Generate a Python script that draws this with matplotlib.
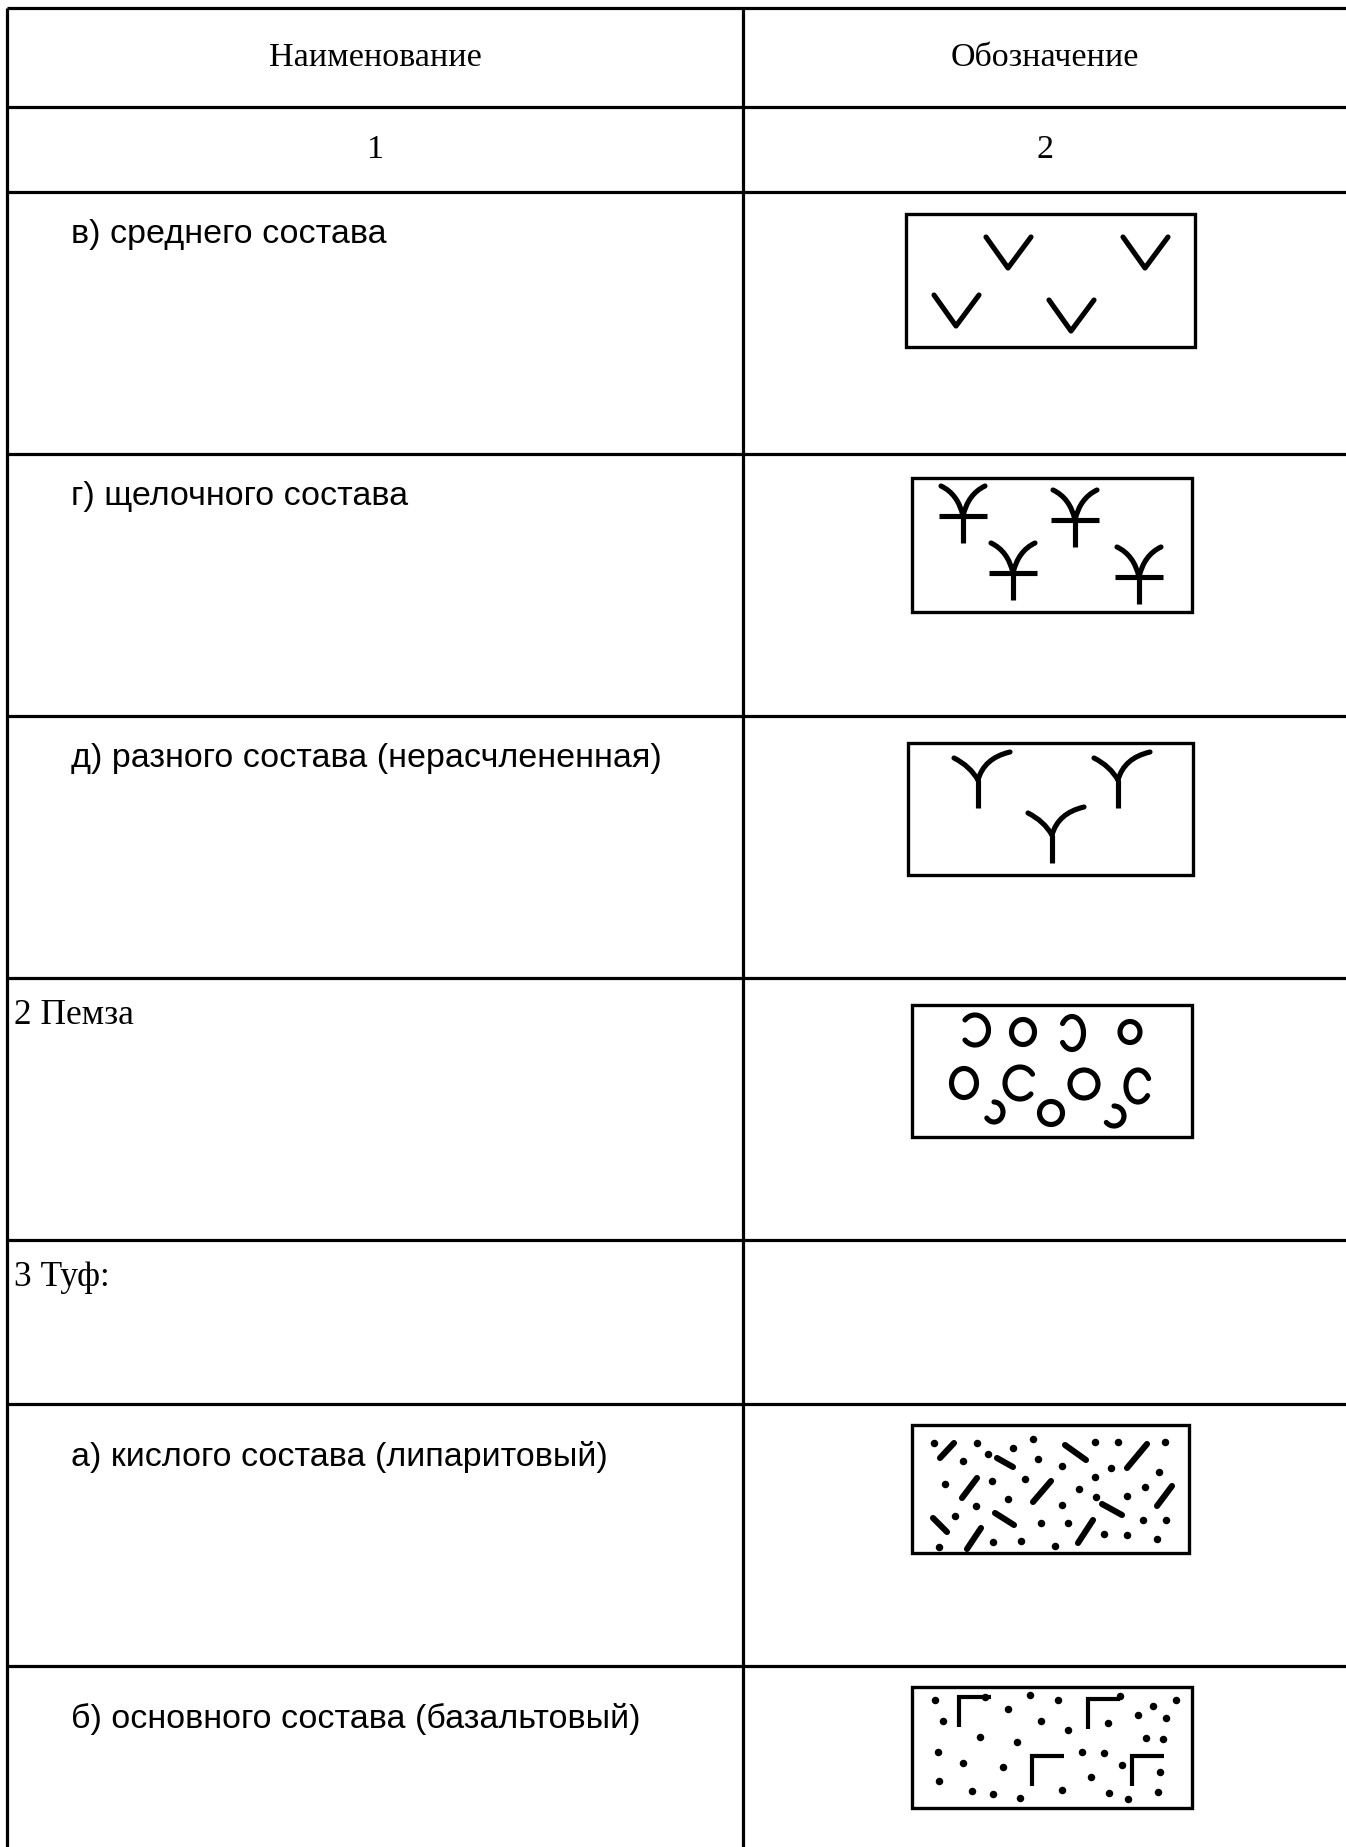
import matplotlib.pyplot as plt
from matplotlib.path import Path
from matplotlib.patches import PathPatch, Ellipse, Arc, Rectangle

W, H = 1346, 1847

# table grid (pixels of the page)
col_x = [7, 743]
row_y = [8, 107, 192, 454, 716, 978, 1240, 1404, 1666]

header = ["Наименование", "Обозначение"]
numbers = ["1", "2"]

# label, indented?, serif?
names = [
    ("в) среднего состава", True, False),
    ("г) щелочного состава", True, False),
    ("д) разного состава (нерасчлененная)", True, False),
    ("2 Пемза", False, True),
    ("3 Туф:", False, True),
    ("а) кислого состава (липаритовый)", True, False),
    ("б) основного состава (базальтовый)", True, False),
]
name_y = [234, 496, 758, 1016, 1277, 1457, 1719]

# symbol frames: x0, y0, x1, y1
boxes = [
    (906, 214, 1195, 347),
    (912, 478, 1192, 612),
    (908, 743, 1193, 875),
    (912, 1005, 1192, 1137),
    (912, 1425, 1189, 1553),
    (912, 1687, 1192, 1808),
]

v_marks = [(1008, 268), (1145, 268), (956, 326), (1071, 331)]
alk_marks = [(963, 516), (1075, 520), (1013, 573), (1139, 577)]
y_marks = [(978, 780), (1118, 780), (1052, 835)]

# pumice glyphs: kind, x, y, w, h
pumice = [
    ("rc", 975, 1030, 27, 30),
    ("o", 1023, 1032, 23, 25),
    ("rc", 1072, 1033, 23, 33),
    ("o", 1130, 1032, 20, 21),
    ("o", 964, 1083, 25, 29),
    ("c", 1020, 1083, 30, 32),
    ("o", 1084, 1084, 28, 28),
    ("c", 1138, 1086, 24, 32),
    ("sc", 994, 1112, 18, 20),
    ("o", 1051, 1113, 23, 23),
    ("sc", 1114, 1116, 20, 20),
]

acid_dots = [
    (934, 1443), (977, 1443), (963, 1461), (988, 1454), (1013, 1448),
    (1033, 1439), (1038, 1459), (1062, 1466), (1095, 1442), (1118, 1442),
    (1165, 1442), (1111, 1468), (1159, 1472), (945, 1484), (992, 1481),
    (1025, 1479), (1095, 1477), (1079, 1489), (1096, 1497), (1127, 1496),
    (1145, 1487), (1008, 1499), (976, 1506), (1062, 1505), (955, 1516),
    (1041, 1523), (1068, 1523), (1143, 1520), (1166, 1520), (1104, 1534),
    (1127, 1535), (993, 1542), (1021, 1541), (1055, 1546), (1157, 1539),
    (939, 1547),
]
acid_dashes = [
    (940, 1458, 954, 1443), (997, 1458, 1013, 1467), (1065, 1445, 1086, 1460),
    (1127, 1468, 1147, 1444), (962, 1498, 977, 1478), (1033, 1502, 1051, 1481),
    (1157, 1506, 1172, 1486), (995, 1513, 1014, 1525), (1102, 1504, 1122, 1515),
    (933, 1518, 947, 1532), (967, 1549, 981, 1528), (1078, 1543, 1093, 1520),
]

basalt_dots = [
    (943, 1721), (1008, 1709), (1041, 1721), (1058, 1700), (1068, 1730),
    (1108, 1723), (1138, 1715), (1153, 1706), (1166, 1718), (980, 1737),
    (1017, 1742), (1146, 1738), (1163, 1739), (938, 1752), (1082, 1752),
    (1104, 1753), (963, 1763), (1003, 1767), (1122, 1765), (1160, 1772),
    (939, 1781), (1091, 1777), (972, 1791), (993, 1794), (1020, 1798),
    (1062, 1790), (1109, 1793), (1128, 1799), (1158, 1792),
    (985, 1697), (1030, 1695), (1120, 1696), (1176, 1700), (935, 1700),
]
basalt_corners = [(959, 1697), (1088, 1699), (1032, 1756), (1132, 1756)]

fig = plt.figure(figsize=(W / 100, H / 100), dpi=100)
ax = fig.add_axes([0, 0, 1, 1])
ax.set_xlim(0, W)
ax.set_ylim(H, 0)
ax.axis("off")

LW = 2.3
for y in row_y:
    ax.plot([col_x[0], W], [y, y], color="black", lw=LW, solid_capstyle="butt")
for x in col_x:
    ax.plot([x, x], [row_y[0], H], color="black", lw=LW, solid_capstyle="butt")

serif = "Liberation Serif"
sans = "Liberation Sans"
left_c = (col_x[0] + col_x[1]) / 2
right_c = (col_x[1] + W) / 2
for i, txt in enumerate(header):
    ax.text([left_c, right_c][i], (row_y[0] + row_y[1]) / 2, txt, family=serif,
            fontsize=24.5, ha="center", va="center")
for i, txt in enumerate(numbers):
    ax.text([left_c, right_c][i], (row_y[1] + row_y[2]) / 2, txt, family=serif,
            fontsize=24.5, ha="center", va="center")
for (txt, indent, is_serif), y in zip(names, name_y):
    ax.text(71 if indent else 14, y, txt, family=serif if is_serif else sans,
            fontsize=25.5 if is_serif else 24.5, ha="left", va="center")

for x0, y0, x1, y1 in boxes:
    ax.add_patch(Rectangle((x0, y0), x1 - x0, y1 - y0, fill=False,
                           edgecolor="black", lw=2.4))

GL = 3.7


def curve(p0, c, p1, lw=GL):
    path = Path([p0, c, p1], [Path.MOVETO, Path.CURVE3, Path.CURVE3])
    ax.add_patch(PathPatch(path, fill=False, lw=lw, edgecolor="black",
                           capstyle="round"))


# intermediate composition: V
for vx, vy in v_marks:
    ax.plot([vx - 22, vx, vx + 23], [vy - 31, vy, vy - 31], color="black",
            lw=GL, solid_joinstyle="round", solid_capstyle="round")

# alkaline composition
for jx, jy in alk_marks:
    curve((jx - 22, jy - 30), (jx - 5, jy - 22), (jx, jy))
    curve((jx + 22, jy - 30), (jx + 5, jy - 22), (jx, jy))
    ax.plot([jx - 24, jx + 24], [jy, jy], color="black", lw=GL,
            solid_capstyle="butt")
    ax.plot([jx, jx], [jy, jy + 27], color="black", lw=GL,
            solid_capstyle="butt")

# undifferentiated
for jx, jy in y_marks:
    curve((jx - 24, jy - 22), (jx - 8, jy - 14), (jx, jy))
    curve((jx, jy), (jx + 6, jy - 22), (jx + 32, jy - 28))
    ax.plot([jx, jx], [jy, jy + 28], color="black", lw=GL,
            solid_capstyle="butt")

# pumice
for kind, x, y, w, h in pumice:
    if kind == "o":
        ax.add_patch(Ellipse((x, y), w, h, fill=False, lw=GL, edgecolor="black"))
    elif kind == "c":
        ax.add_patch(Arc((x, y), w, h, theta1=45, theta2=325, lw=GL,
                         edgecolor="black", capstyle="round"))
    elif kind == "rc":
        ax.add_patch(Arc((x, y), w, h, theta1=-135, theta2=135, lw=GL,
                         edgecolor="black", capstyle="round"))
    else:
        ax.add_patch(Arc((x, y), w, h, theta1=-90, theta2=140, lw=GL,
                         edgecolor="black", capstyle="round"))

# acid tuff
ax.plot([p[0] for p in acid_dots], [p[1] for p in acid_dots], "o",
        color="black", ms=5.4, mec="none")
for x0, y0, x1, y1 in acid_dashes:
    ax.plot([x0, x1], [y0, y1], color="black", lw=4.4, solid_capstyle="round")

# basaltic tuff
ax.plot([p[0] for p in basalt_dots], [p[1] for p in basalt_dots], "o",
        color="black", ms=5.4, mec="none")
for x, y in basalt_corners:
    ax.plot([x, x, x + 32], [y + 30, y, y], color="black", lw=3.0,
            solid_capstyle="butt", solid_joinstyle="miter")

fig.savefig("out.png", dpi=100)
